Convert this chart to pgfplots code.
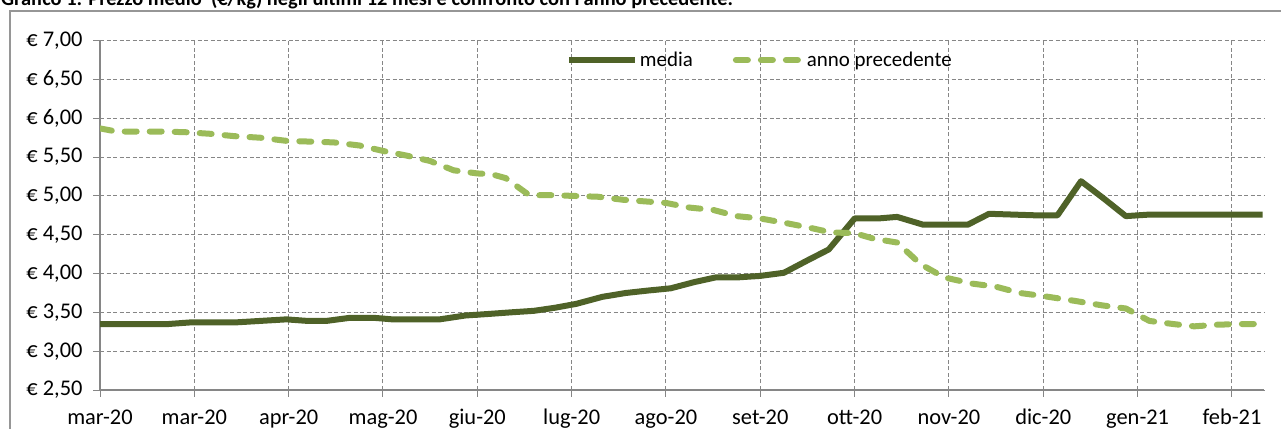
\documentclass[border=0pt]{standalone}
\usepackage{fontspec}
\setmainfont{Carlito}
\usepackage{pgfplots}
\pgfplotsset{compat=1.18}
\definecolor{darkolive}{RGB}{79,98,40}
\definecolor{lightolive}{RGB}{155,187,89}
\definecolor{gridgray}{RGB}{134,134,134}
\definecolor{framegray}{RGB}{150,150,150}
\begin{document}
\begin{tikzpicture}
\useasboundingbox (0,0) rectangle (1281bp,429bp);
\clip (0,0) rectangle (1281bp,429bp);
\node[anchor=base west, font=\fontsize{20.5}{24}\selectfont\bfseries, inner sep=0pt] at (1bp,423bp) {Grafico 1: Prezzo medio \ (€/kg) negli ultimi 12 mesi e confronto con l'anno precedente.};
\draw[framegray, line width=1.2bp] (10bp,-5bp) -- (10bp,418bp) -- (1290bp,418bp);
\begin{axis}[
  scale only axis, width=1164bp, height=349.3bp,
  at={(100bp,39bp)}, anchor=south west,
  xmin=0, xmax=49.36, ymin=2.5, ymax=7,
  axis lines=left, axis line style={-, gridgray, line width=1.2bp},
  xtick={0,4,...,48},
  xticklabels={mar-20,mar-20,apr-20,mag-20,giu-20,lug-20,ago-20,set-20,ott-20,nov-20,dic-20,gen-21,feb-21},
  ytick={2.5,3,3.5,4,4.5,5,5.5,6,6.5,7},
  yticklabels={{€ 2,50},{€ 3,00},{€ 3,50},{€ 4,00},{€ 4,50},{€ 5,00},{€ 5,50},{€ 6,00},{€ 6,50},{€ 7,00}},
  tick align=outside, major tick length=7bp,
  tick style={gridgray, line width=1bp},
  grid=major,
  major grid style={gridgray, line width=1bp, dash pattern=on 4bp off 2.5bp},
  ticklabel style={font=\fontsize{22.5}{26}\selectfont, text=black},
  xticklabel style={text height=15bp, text depth=5bp, yshift=-9bp},
  yticklabel style={xshift=-7bp},
  legend columns=2,
  legend style={at={(0.4003,0.9448)}, anchor=west, draw=none, fill=none,
    inner sep=0pt, outer sep=0pt, font=\fontsize{21}{25}\selectfont,
    /tikz/every even column/.append style={column sep=38bp}},
  legend image code/.code={\draw[#1] (0bp,0bp) -- (66bp,0bp);},
]
\addplot[darkolive, line width=6bp, line join=round] coordinates {
(0,3.35) (1,3.35) (2,3.35) (2.9,3.35) (3.8,3.37) (4.8,3.37) (5.7,3.37) (6.8,3.39) (7.9,3.41)
(8.8,3.39) (9.6,3.39) (10.6,3.43) (11.6,3.43) (12.4,3.41) (13.4,3.41) (14.4,3.41) (15.5,3.46)
(16.5,3.48) (17.4,3.50) (18.4,3.52) (19.3,3.56) (20.2,3.61) (21.3,3.70) (22.3,3.75) (23.2,3.78)
(24.2,3.81) (25.2,3.89) (26.1,3.95) (27,3.95) (28,3.97) (29,4.01) (30,4.17) (30.9,4.31)
(32,4.71) (33,4.71) (33.8,4.73) (34.9,4.63) (35.8,4.63) (36.8,4.63) (37.7,4.77) (38.7,4.76)
(39.7,4.75) (40.6,4.75) (41.6,5.19) (42.55,4.97) (43.5,4.74) (44.5,4.76) (45.5,4.76)
(46.4,4.76) (47.4,4.76) (48.4,4.76) (49.3,4.76)
};
\addlegendentry{media}
\addplot[lightolive, line width=6bp, line cap=round, line join=round, dash pattern=on 12bp off 13bp] coordinates {
(0,5.87) (0.7,5.83) (1.7,5.83) (2.7,5.83) (3.7,5.82) (4.7,5.80) (5.7,5.77) (6.8,5.75) (7.9,5.71)
(8.9,5.70) (9.9,5.69) (11,5.65) (12,5.58) (13,5.52) (14,5.45) (15,5.33) (16,5.29) (16.6,5.28)
(17.2,5.23) (18.2,5.01) (19.2,5.01) (20.1,5.00) (21.1,4.99) (22.2,4.95) (23.1,4.93) (24,4.91)
(25,4.85) (26,4.82) (27,4.74) (28,4.71) (29.1,4.65) (30.1,4.59) (31,4.53) (32,4.52) (32.8,4.45)
(33.8,4.40) (34.8,4.12) (35.8,3.95) (37,3.87) (38,3.83) (39,3.75) (40,3.71) (41.3,3.65)
(42.5,3.59) (43.5,3.55) (44.5,3.39) (45.5,3.35) (46.4,3.32) (47.3,3.34) (48.3,3.35) (49.3,3.35)
};
\addlegendentry{anno precedente}
\end{axis}
\end{tikzpicture}
\end{document}
